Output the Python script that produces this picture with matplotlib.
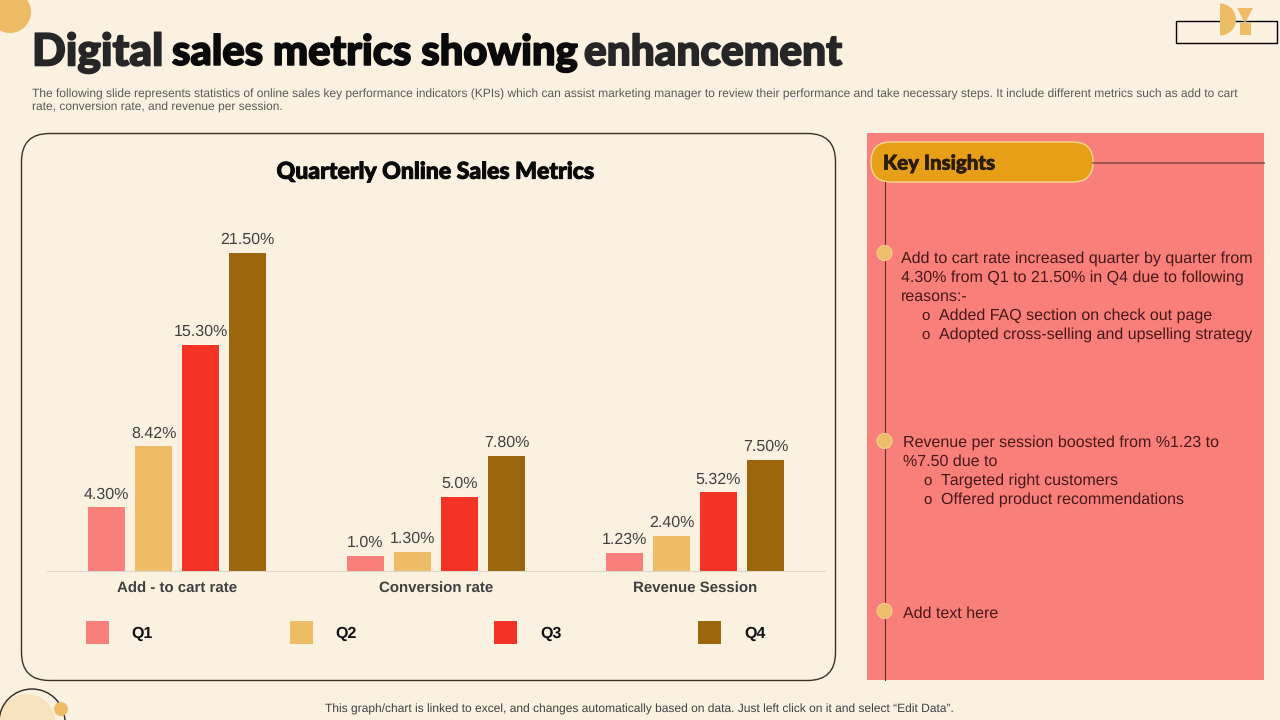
import numpy as np
import matplotlib
matplotlib.use('Agg')
import matplotlib.pyplot as plt
import matplotlib.patheffects as pe
from matplotlib.patches import Rectangle, Circle, FancyBboxPatch, Wedge, Polygon

categories = ['Add - to cart rate', 'Conversion rate', 'Revenue Session']
quarters = ['Q1', 'Q2', 'Q3', 'Q4']
q1 = [4.30, 1.0, 1.23]
q2 = [8.42, 1.30, 2.40]
q3 = [15.30, 5.0, 5.32]
q4 = [21.50, 7.80, 7.50]
q1_labels = ['4.30%', '1.0%', '1.23%']
q2_labels = ['8.42%', '1.30%', '2.40%']
q3_labels = ['15.30%', '5.0%', '5.32%']
q4_labels = ['21.50%', '7.80%', '7.50%']

BG = '#FBF1E1'
PINK = '#F9807A'
GOLD = '#EFBC66'
RED = '#F33325'
BROWN = '#9C660C'
colors = [PINK, GOLD, RED, BROWN]
SANS = 'Liberation Sans'
HEAD = 'Lato'

# no hinting, so text widths scale evenly with the font size
plt.rcParams['text.hinting'] = 'no_hinting'
plt.rcParams['text.hinting_factor'] = 1

fig = plt.figure(figsize=(12.8, 7.2), dpi=100, facecolor=BG)

# whole slide in pixel coordinates, for the decoration around the chart
bg = fig.add_axes([0, 0, 1, 1])
bg.set_xlim(0, 1280)
bg.set_ylim(720, 0)
bg.axis('off')


def heavy(x, y, s, size, color, stroke=0.9, **kw):
    # the slide's display face is heavier than Lato Bold, so thicken it
    t = bg.text(x, y, s, fontsize=size, family=HEAD, weight='black', color=color, va='center', **kw)
    t.set_path_effects([pe.withStroke(linewidth=stroke, foreground=color)])
    return t


bg.add_patch(Circle((10, 12), 21, color=GOLD, lw=0))
bg.add_patch(Circle((27, 722), 28, color='#F8E2C0', lw=0))
bg.add_patch(Circle((32, 722), 33, fc='none', ec='#2b2620', lw=1))
bg.add_patch(Circle((61, 709), 7, color=GOLD, lw=0))

# logo
bg.add_patch(Rectangle((1175.5, 20.5), 101, 22, fc='none', ec='black', lw=1))
bg.add_patch(Wedge((1220, 19.5), 16, -90, 90, color=GOLD, lw=0))
bg.add_patch(Polygon([(1237, 8), (1253, 8), (1245, 23)], color=GOLD, lw=0))
bg.add_patch(Rectangle((1240, 23), 11, 12, color=GOLD, lw=0))

# title, three colours
heavy(32, 53, 'Digital', 32, '#262626', stroke=1.2)
heavy(172, 53, 'sales metrics showing', 30, '#0a0a0a', stroke=1.2)
heavy(584, 53, 'enhancement', 30.5, '#262626', stroke=1.2)

bg.text(32, 94, 'The following slide represents statistics of online sales key performance indicators (KPIs) which can assist marketing manager to review their performance and take necessary steps. It include different metrics such as add to cart',
        fontsize=8.65, family=SANS, color='#595959', va='center')
bg.text(32, 107, 'rate, conversion rate, and revenue per session.', fontsize=8.65, family=SANS, color='#595959', va='center')

# chart card
bg.add_patch(FancyBboxPatch((21.5, 133.5), 814, 547, boxstyle='round,pad=0,rounding_size=28',
                            fc='none', ec='#3a3228', lw=1))
heavy(435, 172, 'Quarterly Online Sales Metrics', 16.6, '#0a0a0a', stroke=0.7, ha='center')

# insights panel
bg.add_patch(Rectangle((867, 133), 397, 547, color=PINK, lw=0))
bg.plot([884.5, 884.5], [182, 680], color='#6b2a2a', lw=0.8)
bg.plot([1093, 1264], [163, 163], color='#8f4d48', lw=1.2)
bg.add_patch(FancyBboxPatch((871, 142), 222, 40, boxstyle='round,pad=0,rounding_size=20',
                            fc='#E69F17', ec='#F7D88F', lw=1))
heavy(883, 164, 'Key Insights', 14.7, '#2b1d05', stroke=0.5)
for y in [253, 441, 611]:
    bg.add_patch(Circle((884.5, y), 7.5, fc='#EDBE68', ec='#F3D08F', lw=0.8, zorder=3))

INK = '#471818'
for x, y, s in [(901, 259, 'Add to cart rate increased quarter by quarter from'),
                (901, 278, '4.30% from Q1 to 21.50% in Q4 due to following'),
                (901, 297, 'reasons:-'),
                (939, 316, 'Added FAQ section on check out page'),
                (939, 335, 'Adopted cross-selling and upselling strategy'),
                (903, 443, 'Revenue per session boosted from %1.23 to'),
                (903, 462, '%7.50 due to'),
                (941, 481, 'Targeted right customers'),
                (941, 500, 'Offered product recommendations'),
                (903, 614, 'Add text here')]:
    bg.text(x, y, s, fontsize=11.4, family=SANS, color=INK, va='center')
for x, y in [(921, 316), (921, 335), (923, 481), (923, 500)]:
    bg.text(x, y, 'o', fontsize=10.5, family=SANS, color=INK, va='center')

bg.text(639, 709, 'This graph/chart is linked to excel, and changes automatically based on data. Just left click on it and select \u201cEdit Data\u201d.',
        fontsize=8.6, family=SANS, color='#404040', ha='center', va='center')

# the chart itself: baseline at y=571, x from 47 to 825
ax = fig.add_axes([47 / 1280, (720 - 571) / 720, 778 / 1280, 371 / 720])
ax.patch.set_alpha(0)
x = np.arange(len(categories))
w = 37 / 259
step = 47 / 259
series = [q1, q2, q3, q4]
labels = [q1_labels, q2_labels, q3_labels, q4_labels]
for i in range(4):
    bars = ax.bar(x + (i - 1.5) * step, series[i], w, color=colors[i])
    ax.bar_label(bars, labels=labels[i], padding=4, fontsize=11.7, family=SANS, color='#404040')
ax.set_xlim(-130 / 259, 2 + 130 / 259)
ax.set_ylim(0, 371 / 14.79)
ax.set_yticks([])
ax.set_xticks(x)
ax.set_xticklabels(categories, fontsize=10.5, family=SANS, weight='bold', color='#404040')
ax.tick_params(axis='x', length=0, pad=8)
for s in ['top', 'left', 'right']:
    ax.spines[s].set_visible(False)
ax.spines['bottom'].set_color('#DDD5C8')

# legend row
for name, c, bx, tx in zip(quarters, colors, [86, 290, 494, 698], [131, 335, 540, 744]):
    bg.add_patch(Rectangle((bx, 621), 22.5, 23, color=c, lw=0))
    bg.text(tx, 634, name, fontsize=11.5, family=SANS, weight='bold', color='#111111', va='center')

fig.savefig('out.png', dpi=100, facecolor=BG)
